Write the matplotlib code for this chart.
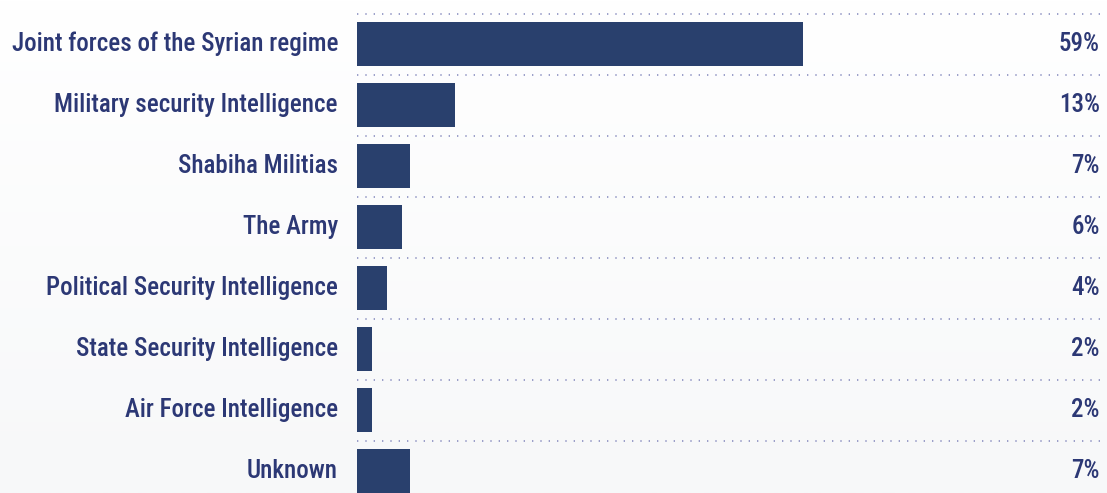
import matplotlib.pyplot as plt
import numpy as np
from matplotlib.colors import LinearSegmentedColormap

labels = ['Joint forces of the Syrian regime', 'Military security Intelligence',
          'Shabiha Militias', 'The Army', 'Political Security Intelligence',
          'State Security Intelligence', 'Air Force Intelligence', 'Unknown']
values = [59, 13, 7, 6, 4, 2, 2, 7]

bar_color = '#29406d'
text_color = '#2c3875'
dot_color = '#8a8fc0'
plt.rcParams['font.family'] = ['Roboto Condensed', 'Roboto', 'DejaVu Sans']

W, H = 1107, 493
fig = plt.figure(figsize=(W / 100, H / 100), dpi=100)

# faint vertical gradient background
bg = fig.add_axes([0, 0, 1, 1], zorder=-1)
grad = np.linspace(1.0, 0.0, 256).reshape(-1, 1)
bg.imshow(grad, aspect='auto', extent=[0, 1, 0, 1],
          cmap=LinearSegmentedColormap.from_list('g', ['#f7f8f9', '#ffffff']))
bg.axis('off')

x0, x1 = 357, 1100
ax = fig.add_axes([x0 / W, 0, (x1 - x0) / W, 1])
ax.patch.set_alpha(0)
px_per_unit = 446 / 59
ax.set_xlim(0, (x1 - x0) / px_per_unit)
row = 61
ax.set_ylim((H - 44) / row, -44 / row)

y = np.arange(len(labels))
ax.barh(y, values, height=44 / row, color=bar_color, zorder=2)
for i in y:
    ax.axhline(i - 0.5, xmax=(W - x0) / (x1 - x0), color=dot_color, lw=1.2,
               linestyle=(0, (0.8, 4.2)), zorder=1, clip_on=False)
    ax.text(-19 / px_per_unit, i, labels[i], ha='right', va='center',
            fontsize=18, color=text_color, fontweight=500, clip_on=False)
    ax.text(ax.get_xlim()[1], i, f'{values[i]}%', ha='right', va='center',
            fontsize=18, color=text_color, fontweight=500)
ax.axis('off')

fig.savefig('out.png', dpi=100)
